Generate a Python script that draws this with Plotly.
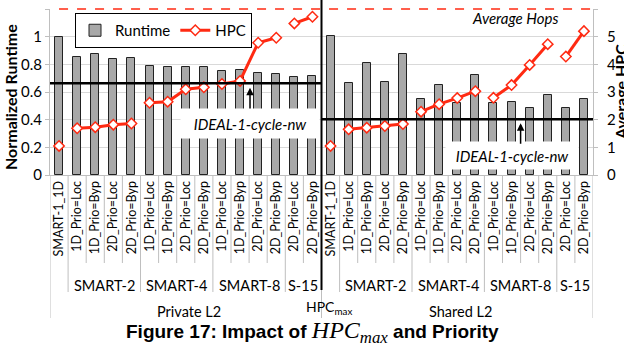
import plotly.graph_objects as go

# ---------------- data ----------------
cat_labels = ["SMART-1_1D",
              "1D_Prio=Loc", "1D_Prio=Byp", "2D_Prio=Loc", "2D_Prio=Byp",
              "1D_Prio=Loc", "1D_Prio=Byp", "2D_Prio=Loc", "2D_Prio=Byp",
              "1D_Prio=Loc", "1D_Prio=Byp", "2D_Prio=Loc", "2D_Prio=Byp",
              "2D_Prio=Loc", "2D_Prio=Byp"]
group_labels = ["", "SMART-2", "SMART-4", "SMART-8", "S-15"]
group_sizes = [1, 4, 4, 4, 2]
section_labels = ["Private L2", "Shared L2"]

runtime_private = [1.00, 0.855, 0.872, 0.836, 0.843, 0.79, 0.778, 0.778, 0.778,
                   0.749, 0.757, 0.735, 0.729, 0.711, 0.717]
runtime_shared = [1.005, 0.663, 0.812, 0.670, 0.872, 0.547, 0.651, 0.522, 0.722,
                  0.522, 0.530, 0.487, 0.576, 0.487, 0.549]
hpc_private = [1.05, 1.69, 1.73, 1.82, 1.86, 2.61, 2.65, 3.10, 3.17,
               3.29, 3.40, 4.78, 4.96, 5.48, 5.72]
hpc_shared = [1.05, 1.65, 1.71, 1.77, 1.84, 2.29, 2.56, 2.78, 3.03,
              2.79, 3.25, 3.98, 4.73, 4.28, 5.20]
ideal_private = 0.663
ideal_shared = 0.403

# ---------------- build ----------------
labels = cat_labels + cat_labels
runtime = runtime_private + runtime_shared
hpc = hpc_private + hpc_shared
n = len(labels)
xs = list(range(n))

FONT = "Lato"
RED = "#ff2a12"
GRID = "#d9d9d9"
SEP = "#bfbfbf"

fig = go.Figure()
fig.add_trace(go.Bar(x=xs, y=runtime, name="Runtime", width=0.44,
                     marker=dict(color="#a8a8a8", line=dict(color="#222222", width=1)),
                     yaxis="y"))

# HPC segments (one per group, per section)
first = True
for sec in range(2):
    start = sec * len(cat_labels)
    for size in group_sizes:
        seg_x = xs[start:start + size]
        seg_y = hpc[start:start + size]
        fig.add_trace(go.Scatter(x=seg_x, y=seg_y, name="HPC", mode="lines+markers",
                                 line=dict(color=RED, width=3),
                                 marker=dict(symbol="diamond", size=8, color="white",
                                             line=dict(color=RED, width=1.5)),
                                 yaxis="y2", legendgroup="hpc", showlegend=first,
                                 cliponaxis=False))
        first = False
        start += size

shapes = []
half = len(cat_labels)
# red dashed "Average Hops" line at the top of the plot
shapes.append(dict(type="line", xref="x", yref="paper", x0=0, x1=n - 0.5,
                   y0=1, y1=1,
                   line=dict(color=RED, width=1.5, dash="dash"), layer="above"))
# ideal lines
shapes.append(dict(type="line", xref="x", yref="y", x0=-0.5, x1=half - 0.5,
                   y0=ideal_private, y1=ideal_private, line=dict(color="black", width=2.5),
                   layer="above"))
shapes.append(dict(type="line", xref="x", yref="y", x0=half - 0.5, x1=n - 0.5,
                   y0=ideal_shared, y1=ideal_shared, line=dict(color="black", width=2.5),
                   layer="above"))

# separators in the category label area
h_px = 166.0
minor_y = -(263 - 175) / h_px
group_y = -(292 - 175) / h_px
outer_y = -(318 - 175) / h_px
bounds_group = set()
for sec in range(2):
    b = sec * half - 0.5
    for size in group_sizes:
        b += size
        bounds_group.add(round(b, 1))
for i in range(n + 1):
    b = i - 0.5
    if i % half == 0:
        yb = outer_y
    elif round(b, 1) in bounds_group:
        yb = group_y
    else:
        yb = minor_y
    shapes.append(dict(type="line", xref="x", yref="paper", x0=b, x1=b, y0=0, y1=yb,
                       line=dict(color=SEP, width=1)))
# black vertical divider
shapes.append(dict(type="line", xref="x", yref="paper", x0=half - 0.5, x1=half - 0.5,
                   y0=1.054, y1=-(290 - 175) / h_px, line=dict(color="black", width=2),
                   layer="above"))

annotations = []
# group labels
for sec in range(2):
    start = sec * half
    for g, size in zip(group_labels, group_sizes):
        if g:
            annotations.append(dict(x=start + (size - 1) / 2, y=-(285 - 175) / h_px,
                                    xref="x", yref="paper", text=g, showarrow=False,
                                    xanchor="center", yanchor="middle",
                                    font=dict(family=FONT, size=14.5, color="black")))
        start += size
for sec, s in enumerate(section_labels):
    annotations.append(dict(x=sec * half + (half - 1) / 2 + 0.2, y=-(311 - 175) / h_px,
                            xref="x", yref="paper", text=s, showarrow=False,
                            xanchor="center", yanchor="middle",
                            font=dict(family=FONT, size=14.5, color="black")))
annotations.append(dict(x=half - 0.1, y=-(307 - 175) / h_px, xref="x", yref="paper",
                        text="HPC<sub>max</sub>", showarrow=False,
                        xanchor="center", yanchor="middle",
                        font=dict(family=FONT, size=14, color="black")))
# title
annotations.append(dict(x=(312 - 50) / 543, y=-(332 - 175) / h_px, xref="paper", yref="paper",
                        text="<b>Figure 17: Impact of </b><span style=\"font-family:Liberation Serif;font-size:24px\"><i>HPC<sub>max</sub></i></span><b> and Priority</b>",
                        showarrow=False, xanchor="center", yanchor="middle",
                        font=dict(family="Liberation Sans", size=19, color="black")))
# axis titles
annotations.append(dict(x=(11 - 50) / 543, y=0.47, xref="paper", yref="paper",
                        text="<b>Normalized Runtime</b>", textangle=-90, showarrow=False,
                        xanchor="center", yanchor="middle",
                        font=dict(family=FONT, size=16, color="black")))
annotations.append(dict(x=(620 - 50) / 543, y=0.5, xref="paper", yref="paper",
                        text="<b>Average HPC</b>", textangle=-90, showarrow=False,
                        xanchor="center", yanchor="middle",
                        font=dict(family=FONT, size=16, color="black")))
# Average Hops text
annotations.append(dict(x=25.2, y=1.135, xref="x", yref="y", text="<i>Average Hops</i>",
                        showarrow=False, font=dict(family=FONT, size=15, color="black")))
# IDEAL boxes
annotations.append(dict(x=10.55, y=0.37, xref="x", yref="y", text="<i>IDEAL-1-cycle-nw</i>",
                        showarrow=False, bgcolor="white", width=136, height=27,
                        font=dict(family=FONT, size=15, color="black")))
annotations.append(dict(x=25.0, y=0.14, xref="x", yref="y", text="<i>IDEAL-1-cycle-nw</i>",
                        showarrow=False, bgcolor="white", width=130, height=25,
                        font=dict(family=FONT, size=15, color="black")))
# arrows
annotations.append(dict(x=10.55, y=0.63, ax=10.55, ay=0.47, xref="x", yref="y",
                        axref="x", ayref="y", text="", showarrow=True, arrowhead=2,
                        arrowsize=1, arrowwidth=1.5, arrowcolor="black"))
annotations.append(dict(x=25.5, y=0.375, ax=25.5, ay=0.215, xref="x", yref="y",
                        axref="x", ayref="y", text="", showarrow=True, arrowhead=2,
                        arrowsize=1, arrowwidth=1.5, arrowcolor="black"))

fig.update_layout(
    width=624, height=347,
    margin=dict(l=50, r=31, t=9, b=172),
    paper_bgcolor="white", plot_bgcolor="white",
    font=dict(family=FONT, size=15, color="black"),
    bargap=0,
    xaxis=dict(range=[-0.5, n - 0.5], tickmode="array", tickvals=xs, ticktext=labels,
               tickangle=-90, showgrid=False, zeroline=False, showline=True,
               linecolor=SEP, linewidth=1, ticks="", tickfont=dict(family=FONT, size=12.5)),
    yaxis=dict(range=[0, 1.2], showgrid=True, gridcolor=GRID,
               zeroline=False, showline=True, linecolor=SEP, ticks="outside", ticklen=4,
               tickcolor=SEP, tickfont=dict(family=FONT, size=15),
               tickvals=[0, 0.2, 0.4, 0.6, 0.8, 1, 1.2],
               ticktext=["0", "0.2", "0.4", "0.6", "0.8", "1", "1.2"]),
    yaxis2=dict(range=[0, 6], dtick=1, overlaying="y", side="right", showgrid=False,
                zeroline=False, showline=True, linecolor=SEP, ticks="outside", ticklen=4,
                tickcolor=SEP, tickfont=dict(family=FONT, size=15), ticklabelstandoff=6),
    legend=dict(orientation="h", x=(75 - 50) / 543, y=(175 - 13) / h_px,
                xanchor="left", yanchor="top", bgcolor="white", bordercolor="black",
                borderwidth=1, font=dict(family=FONT, size=15), itemwidth=30,
                tracegroupgap=0),
    shapes=shapes, annotations=annotations,
    showlegend=True,
)

fig.write_html("out.html")
